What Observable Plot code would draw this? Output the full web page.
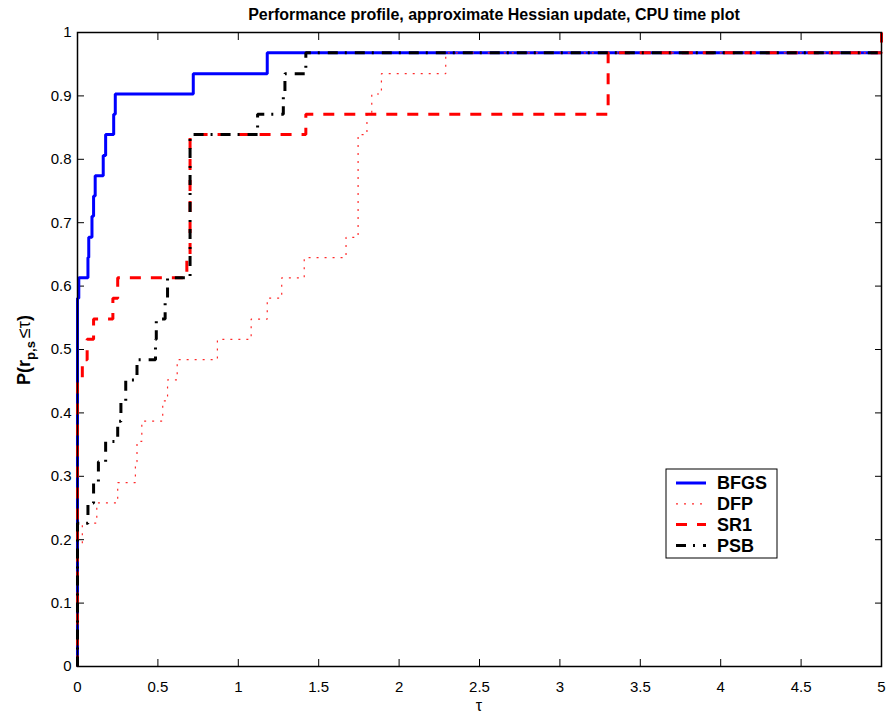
<!DOCTYPE html>
<html>
<head>
<meta charset="utf-8">
<script src="https://cdn.jsdelivr.net/npm/d3@7"></script>
<script src="https://cdn.jsdelivr.net/npm/@observablehq/plot@0.6"></script>
<style>
  html, body { margin: 0; padding: 0; background: #fff; }
  #chart { width: 891px; height: 719px; }
  #chart svg { display: block; }
</style>
</head>
<body>
<div id="chart"></div>
<script>
// Performance profile: fraction of problems solved within a factor tau of the best CPU time
const solvers = ["BFGS", "DFP", "SR1", "PSB"];

const bfgsTau = [0, 0, 0.008, 0.065, 0.07, 0.09, 0.10, 0.11, 0.16, 0.175, 0.225, 0.235, 0.72, 1.18, 5];
const bfgsP   = [0, 0.581, 0.613, 0.645, 0.677, 0.710, 0.742, 0.774, 0.806, 0.839, 0.871, 0.903, 0.935, 0.968, 0.968];

const dfpTau = [0, 0, 0.03, 0.12, 0.25, 0.36, 0.37, 0.40, 0.53, 0.56, 0.62, 0.87, 1.08, 1.18, 1.27, 1.41, 1.67, 1.745, 1.80, 1.83, 1.89, 2.29, 5];
const dfpP   = [0, 0.194, 0.226, 0.258, 0.290, 0.323, 0.355, 0.387, 0.419, 0.452, 0.484, 0.516, 0.548, 0.581, 0.613, 0.645, 0.677, 0.839, 0.871, 0.903, 0.935, 0.968, 0.968];

const sr1Tau = [0, 0, 0.03, 0.06, 0.10, 0.22, 0.25, 0.68, 0.70, 1.42, 3.30, 5, 5];
const sr1P   = [0, 0.452, 0.484, 0.516, 0.548, 0.581, 0.613, 0.645, 0.839, 0.871, 0.968, 0.968, 1.0];

const psbTau = [0, 0, 0.065, 0.10, 0.13, 0.175, 0.25, 0.27, 0.30, 0.37, 0.485, 0.49, 0.545, 0.56, 0.70, 1.12, 1.28, 1.29, 1.42, 5];
const psbP   = [0, 0.226, 0.258, 0.290, 0.323, 0.355, 0.387, 0.419, 0.452, 0.484, 0.516, 0.548, 0.581, 0.613, 0.839, 0.871, 0.903, 0.935, 0.968, 0.968];

const xTicks = [0, 0.5, 1, 1.5, 2, 2.5, 3, 3.5, 4, 4.5, 5];
const yTicks = [0, 0.1, 0.2, 0.3, 0.4, 0.5, 0.6, 0.7, 0.8, 0.9, 1];

// line styles per solver
const styles = {
  BFGS: { stroke: "#0000ff", strokeWidth: 3, dash: null },
  DFP:  { stroke: "#ff2a2a", strokeWidth: 1.2, dash: "2,6" },
  SR1:  { stroke: "#ff0000", strokeWidth: 3, dash: "11,10" },
  PSB:  { stroke: "#000000", strokeWidth: 3, dash: "10,7,2,8" }
};

const series = {
  BFGS: bfgsTau.map((t, i) => ({ tau: t, p: bfgsP[i] })),
  DFP:  dfpTau.map((t, i) => ({ tau: t, p: dfpP[i] })),
  SR1:  sr1Tau.map((t, i) => ({ tau: t, p: sr1P[i] })),
  PSB:  psbTau.map((t, i) => ({ tau: t, p: psbP[i] }))
};

const fmt = d3.format("~g");
const font = "'Liberation Sans', Arial, Helvetica, sans-serif";

const lines = solvers.map(s => Plot.line(series[s], {
  x: "tau", y: "p", curve: "step-after",
  stroke: styles[s].stroke, strokeWidth: styles[s].strokeWidth,
  strokeDasharray: styles[s].dash, strokeLinecap: "butt", strokeLinejoin: "miter"
}));

const plot = Plot.plot({
  width: 891,
  height: 719,
  marginLeft: 77,
  marginRight: 10,
  marginTop: 32,
  marginBottom: 53,
  style: { fontFamily: font, fontSize: "15px", background: "#fff", color: "#000" },
  x: { domain: [0, 5], label: null },
  y: { domain: [0, 1], label: null },
  marks: [
    Plot.axisX({ anchor: "bottom", ticks: xTicks, tickSize: 0, tickPadding: 15, tickFormat: fmt, fontSize: 15 }),
    Plot.axisY({ anchor: "left", ticks: yTicks, tickSize: 0, tickPadding: 6, tickFormat: fmt, fontSize: 15 }),
    Plot.axisX({ anchor: "bottom", ticks: xTicks, tickSize: -7, tickFormat: () => "" }),
    Plot.axisX({ anchor: "top", ticks: xTicks, tickSize: -7, tickFormat: () => "" }),
    Plot.axisY({ anchor: "left", ticks: yTicks, tickSize: -7, tickFormat: () => "" }),
    Plot.axisY({ anchor: "right", ticks: yTicks, tickSize: -7, tickFormat: () => "" }),
    ...lines,
    Plot.frame({ stroke: "#000", strokeWidth: 1.5 })
  ]
});

document.getElementById("chart").appendChild(plot);

const svg = d3.select(plot);

// title
svg.append("text")
  .attr("x", 494).attr("y", 20)
  .attr("text-anchor", "middle")
  .attr("font-family", font).attr("font-weight", "bold").attr("font-size", 16)
  .attr("fill", "#000")
  .text("Performance profile, approximate Hessian update, CPU time plot");

// x axis label
svg.append("text")
  .attr("x", 479).attr("y", 711)
  .attr("text-anchor", "middle")
  .attr("font-family", font).attr("font-size", 16)
  .attr("fill", "#000")
  .text("τ");

// y axis label with subscript
const yl = svg.append("text")
  .attr("transform", "translate(30,350) rotate(-90)")
  .attr("text-anchor", "middle")
  .attr("font-family", font).attr("font-weight", "bold").attr("font-size", 18)
  .attr("fill", "#000");
yl.append("tspan").text("P(r");
yl.append("tspan").attr("dy", 5).attr("font-size", 13).text("p,s");
yl.append("tspan").attr("dy", -5).attr("dx", 3).attr("font-weight", "normal").text("≤");
yl.append("tspan").attr("font-weight", "normal").text("τ");
yl.append("tspan").text(")");

// legend
const lg = svg.append("g").attr("transform", "translate(666,469)");
lg.append("rect")
  .attr("width", 111).attr("height", 89)
  .attr("fill", "#fff").attr("stroke", "#000").attr("stroke-width", 1);
solvers.forEach((s, i) => {
  const y = 14 + i * 20.8;
  lg.append("line")
    .attr("x1", 10).attr("x2", 40).attr("y1", y).attr("y2", y)
    .attr("stroke", styles[s].stroke)
    .attr("stroke-width", styles[s].strokeWidth)
    .attr("stroke-dasharray", styles[s].dash);
  lg.append("text")
    .attr("x", 51).attr("y", y).attr("dy", "0.36em")
    .attr("text-anchor", "start")
    .attr("font-family", font).attr("font-weight", "bold").attr("font-size", 18)
    .attr("fill", "#000")
    .text(s);
});
</script>
</body>
</html>
